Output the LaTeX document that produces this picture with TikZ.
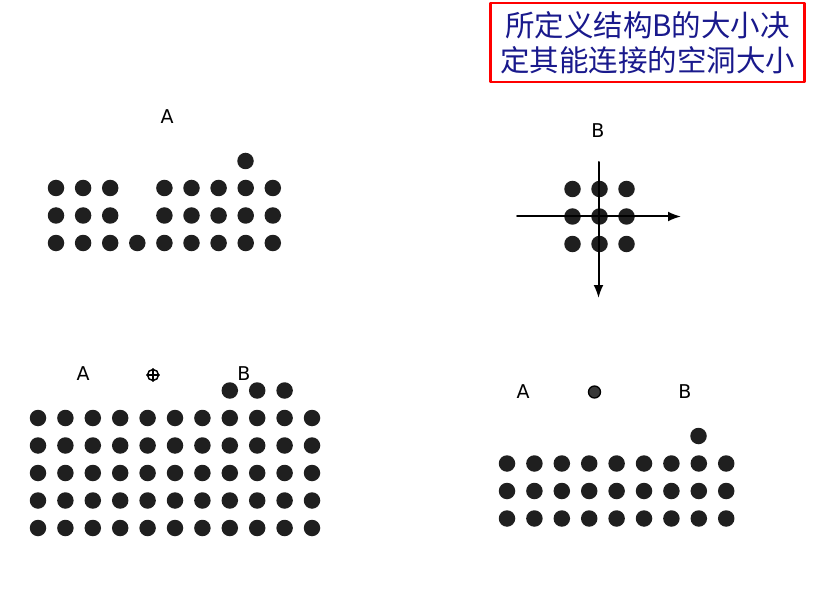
\documentclass[tikz,border=0pt]{standalone}
\usepackage{fontspec}
\setsansfont{DejaVu Sans}
\newfontfamily\cjk{Noto Sans CJK SC}
\usetikzlibrary{arrows.meta}
\definecolor{boxblue}{RGB}{25,25,140}
\begin{document}
\begin{tikzpicture}[line cap=round,line join=round,x=1pt,y=-1pt]
	\tikzset{dot/.style={circle,fill=black!88,inner sep=0pt,minimum size=16.5pt},
		lab/.style={font=\sffamily\fontsize{19}{19}\selectfont},
		achse/.style={line width=2pt,-{Latex[length=13pt,width=10pt]}},
		note/.style={draw=red,line width=2.5pt,text=boxblue,align=center,
			minimum width=314pt,minimum height=79pt,inner sep=0pt,
			font=\cjk\fontsize{29.5}{35}\selectfont}}
	\useasboundingbox (0,0) rectangle (828,591);
	% Bemerkung
	\node[note] (note) at (647.5,42.5) {所定义结构B的大小决\\定其能连接的空洞大小};
	% A oben links
	\node[lab] (la) at (167,117) {A};
	\foreach \i in {0,...,8}{
		\node[dot] (a1\i) at (56+27.1*\i,243) {};
	}
	\foreach \i in {0,1,2,4,5,6,7,8}{
		\node[dot] (a2\i) at (56+27.1*\i,215.5) {};
		\node[dot] (a3\i) at (56+27.1*\i,188) {};
	}
	\node[dot] (a4) at (245.5,161) {};
	% B oben rechts
	\node[lab] (lb) at (598,131) {B};
	\foreach \i in {0,1,2}{
		\foreach \j in {0,1,2}{
			\node[dot] (b\i\j) at (572.5+27*\i,189+27.5*\j) {};
		}
	}
	\coordinate (hl) at (517,216.5);
	\coordinate (hr) at (681,216.5);
	\coordinate (vt) at (598.5,162);
	\coordinate (vb) at (598.5,298);
	\draw[achse] (hl)--(hr);
	\draw[achse] (vt)--(vb);
	% unten links
	\node[lab] (lca) at (83,374) {A};
	\node[lab] (lcb) at (244,374) {B};
	\node[circle,draw,line width=1.5pt,inner sep=0pt,minimum size=11pt] (cp) at (153,375) {};
	\draw[line width=1.3pt] (cp.north)--(cp.south) (cp.west)--(cp.east);
	\foreach \i in {0,...,10}{
		\foreach \j in {0,...,4}{
			\node[dot] (c\i\j) at (38+27.4*\i,418+27.5*\j) {};
		}
	}
	\foreach \i in {7,8,9}{
		\node[dot] (cb\i) at (38+27.4*\i,390.5) {};
	}
	% unten rechts
	\node[lab] (lda) at (523,392) {A};
	\node[lab] (ldb) at (685,392) {B};
	\node[circle,draw,line width=1.3pt,fill=black!78,inner sep=0pt,minimum size=12pt] (dd) at (594.5,392) {};
	\foreach \i in {0,...,8}{
		\foreach \j in {0,1,2}{
			\node[dot] (d\i\j) at (507+27.4*\i,463.5+27.5*\j) {};
		}
	}
	\node[dot] (d9) at (698.5,436) {};
\end{tikzpicture}
\end{document}
